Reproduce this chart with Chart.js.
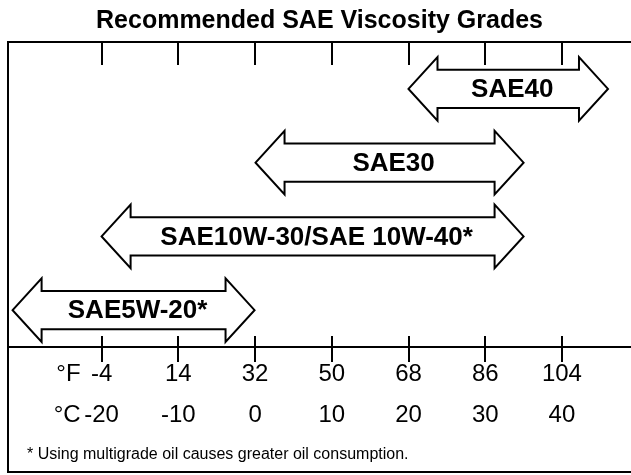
<!DOCTYPE html>
<html><head><meta charset="utf-8">
<script src="https://cdn.jsdelivr.net/npm/chart.js@4.4.1/dist/chart.umd.min.js"></script>
<style>html,body{margin:0;padding:0;background:#fff;} canvas{display:block;}</style>
</head><body>
<canvas id="c" width="631" height="475"></canvas>
<script>
// ---- data ----
const grades = ['SAE40', 'SAE30', 'SAE10W-30/SAE 10W-40*', 'SAE5W-20*'];
const rangeLowC = [20, 0, -20, -31.6];
const rangeHighC = [46, 35, 35, 0];
const tickC = [-20, -10, 0, 10, 20, 30, 40];
const tickLabelsF = ['-4', '14', '32', '50', '68', '86', '104'];
const tickLabelsC = ['-20', '-10', '0', '10', '20', '30', '40'];
const unitLabels = ['°F', '°C'];
const titleText = 'Recommended SAE Viscosity Grades';
const footnoteText = '* Using multigrade oil causes greater oil consumption.';

const FONT = '"Liberation Sans", Arial, Helvetica, sans-serif';
const TICK_FONT = 24, TICK_LH = 41, TICK_PAD = 6.5;

const drawPlugin = {
  id: 'sae',
  beforeDraw(chart) {
    const ctx = chart.ctx;
    ctx.save();
    ctx.fillStyle = '#fff';
    ctx.fillRect(0, 0, chart.width, chart.height);
    ctx.restore();
  },
  beforeDatasetsDraw(chart) {
    const ctx = chart.ctx, ca = chart.chartArea, xs = chart.scales.x;
    const boxTop = ca.top - 10, boxBottom = chart.height - 3;
    ctx.save();
    ctx.strokeStyle = '#000';
    ctx.lineWidth = 2;
    // frame
    ctx.beginPath();
    ctx.moveTo(chart.width, boxTop);
    ctx.lineTo(ca.left, boxTop);
    ctx.lineTo(ca.left, boxBottom);
    ctx.lineTo(chart.width, boxBottom);
    ctx.stroke();
    // tick marks (top and across the axis)
    ctx.beginPath();
    tickC.forEach(v => {
      const px = Math.round(xs.getPixelForValue(v));
      ctx.moveTo(px, boxTop);
      ctx.lineTo(px, boxTop + 23);
      ctx.moveTo(px, ca.bottom - 11);
      ctx.lineTo(px, ca.bottom + 15);
    });
    ctx.stroke();
    // unit prefixes
    ctx.fillStyle = '#000';
    ctx.font = TICK_FONT + 'px ' + FONT;
    ctx.textAlign = 'right';
    ctx.textBaseline = 'middle';
    const ux = xs.getPixelForValue(tickC[0]) - 21;
    const y0 = xs.top + TICK_PAD + TICK_LH / 2;
    ctx.fillText(unitLabels[0], ux, y0);
    ctx.fillText(unitLabels[1], ux, y0 + TICK_LH);
    // footnote
    ctx.font = '16px ' + FONT;
    ctx.textAlign = 'left';
    ctx.textBaseline = 'alphabetic';
    ctx.fillText(footnoteText, ca.left + 19, chart.height - 16);
    ctx.restore();
  },
  afterDatasetsDraw(chart) {
    const ctx = chart.ctx;
    const meta = chart.getDatasetMeta(0);
    ctx.save();
    meta.data.forEach((bar, i) => {
      const p = bar.getProps(['x', 'y', 'base', 'height'], true);
      const x1 = Math.min(p.x, p.base), x2 = Math.max(p.x, p.base);
      const cy = p.y, hh = p.height / 2, sh = hh * 0.6, head = 29;
      ctx.beginPath();
      ctx.moveTo(x1, cy);
      ctx.lineTo(x1 + head, cy - hh);
      ctx.lineTo(x1 + head, cy - sh);
      ctx.lineTo(x2 - head, cy - sh);
      ctx.lineTo(x2 - head, cy - hh);
      ctx.lineTo(x2, cy);
      ctx.lineTo(x2 - head, cy + hh);
      ctx.lineTo(x2 - head, cy + sh);
      ctx.lineTo(x1 + head, cy + sh);
      ctx.lineTo(x1 + head, cy + hh);
      ctx.closePath();
      ctx.fillStyle = '#fff';
      ctx.fill();
      ctx.lineWidth = 2;
      ctx.strokeStyle = '#000';
      ctx.lineJoin = 'miter';
      ctx.stroke();
      ctx.fillStyle = '#000';
      ctx.font = 'bold 26px ' + FONT;
      ctx.textAlign = 'center';
      ctx.textBaseline = 'middle';
      ctx.fillText(grades[i], (x1 + x2) / 2 + 4, cy + 1);
    });
    ctx.restore();
  }
};

new Chart(document.getElementById('c'), {
  type: 'bar',
  data: {
    labels: grades,
    datasets: [{
      data: grades.map((g, i) => [rangeLowC[i], rangeHighC[i]]),
      backgroundColor: 'rgba(0,0,0,0)',
      borderWidth: 0,
      categoryPercentage: 1,
      barPercentage: 0.86
    }]
  },
  options: {
    indexAxis: 'y',
    responsive: false,
    animation: false,
    layout: { padding: { left: 8, right: 0, top: 0, bottom: 0 } },
    plugins: {
      legend: { display: false },
      tooltip: { enabled: false },
      title: {
        display: true,
        text: titleText,
        color: '#000',
        font: { family: FONT, size: 25, weight: 'bold', lineHeight: 1.2 },
        padding: { top: 6.5, bottom: 15.5 }
      }
    },
    scales: {
      y: { display: false, type: 'category', offset: true },
      x: {
        type: 'linear',
        position: 'bottom',
        min: -32.2,
        max: 49,
        afterBuildTicks: s => { s.ticks = tickC.map(v => ({ value: v })); },
        afterFit: s => { s.height = 128; },
        grid: { display: true, drawOnChartArea: false, drawTicks: false },
        border: { display: true, color: '#000', width: 2 },
        ticks: {
          color: '#000',
          maxRotation: 0,
          autoSkip: false,
          padding: TICK_PAD,
          font: { family: FONT, size: TICK_FONT, lineHeight: TICK_LH / TICK_FONT },
          callback: (v, i) => [tickLabelsF[i], tickLabelsC[i]]
        }
      }
    }
  },
  plugins: [drawPlugin]
});
</script>
</body></html>
